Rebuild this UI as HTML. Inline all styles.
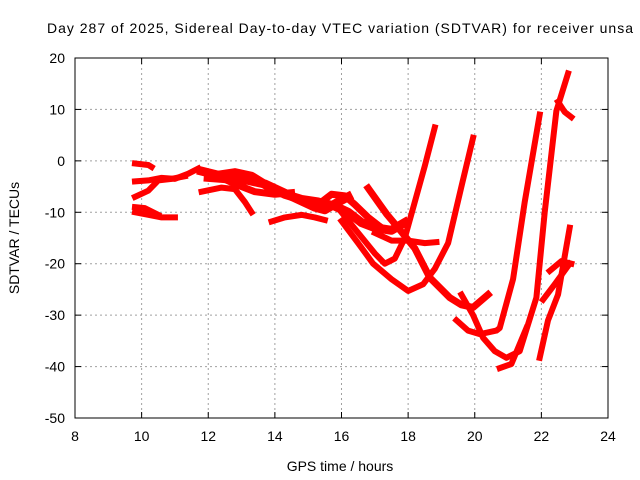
<!DOCTYPE html>
<html><head><meta charset="utf-8"><style>
html,body{margin:0;padding:0;background:#fff;}
svg{display:block;font-family:"Liberation Sans",Arial,sans-serif;}
</style></head><body>
<svg id="chart" width="640" height="480">
<text x="340" y="33" text-anchor="middle" font-size="14" textLength="586">Day 287 of 2025, Sidereal Day-to-day VTEC variation (SDTVAR) for receiver unsa</text>
<g id="grid"></g>
<g id="axes"></g>
<g id="series"></g>
<text x="340" y="471" text-anchor="middle" font-size="14">GPS time / hours</text>
<text transform="translate(19,238) rotate(-90)" text-anchor="middle" font-size="14">SDTVAR / TECUs</text>
</svg>
<script>
const xTicks=[8,10,12,14,16,18,20,22,24];
const yTicks=[20,10,0,-10,-20,-30,-40,-50];
const trackEarly1=[[9.8,-0.5],[10.2,-0.8],[10.3,-1.2]];
const trackEarly2=[[9.8,-4],[10.2,-3.8],[10.6,-3.3],[11,-3.5],[11.4,-2.5],[11.7,-1.5]];
const trackEarly3=[[9.8,-7],[10.2,-5.8],[10.5,-3.8],[10.9,-3.5],[11.3,-3]];
const trackEarly4=[[9.8,-10],[10.2,-10.5],[10.6,-11],[11,-11]];
const trackEarly5=[[9.8,-9],[10.1,-9.2],[10.5,-10.5]];
const trackMain=[[11.8,-2],[12.3,-2.8],[12.8,-2.3],[13.3,-3],[13.8,-5],[14.3,-6.5],[14.8,-7.5],[15.3,-8],[15.8,-8.8],[16.2,-10],[16.6,-12],[17,-13],[17.5,-13.5],[17.9,-12]];
const trackMain2=[[12,-3.2],[12.6,-3.5],[13.2,-3.8],[13.7,-4.5],[14.2,-6],[14.7,-7.5],[15.2,-9],[15.5,-9.5],[15.9,-8],[16.2,-7]];
const trackBranch=[[11.8,-6],[12.4,-5.2],[12.8,-5.5],[13.1,-8],[13.3,-10]];
const trackBranch2=[[12.3,-3],[12.8,-4.5],[13.4,-6],[14,-6.5],[14.5,-6.2]];
const trackLow=[[13.9,-11.8],[14.3,-11],[14.8,-10.5],[15.2,-11],[15.5,-11.5]];
const trackHump=[[15.3,-8.5],[15.7,-6.5],[16.1,-6.8],[16.4,-8.5],[16.8,-11],[17.2,-13]];
const trackR1=[[16,-10],[16.5,-14],[17,-18],[17.3,-20],[17.6,-19],[17.9,-15],[18.2,-8],[18.5,-1],[18.8,6.5]];
const trackR2=[[16,-11.7],[16.5,-16],[16.95,-20],[17.5,-23],[18,-25.3],[18.45,-24],[18.8,-21],[19.2,-16],[19.6,-5],[19.95,4.5]];
const trackR3=[[16.8,-5.3],[17.35,-10.3],[17.7,-13],[18.2,-17],[18.65,-22.7],[19.25,-26.6],[19.6,-28],[19.95,-28.5],[20.4,-26]];
const trackR4=[[17,-14],[17.5,-15.5],[18,-15.5],[18.5,-16],[18.85,-15.8]];
const trackR5=[[19.45,-31],[19.8,-33],[20.15,-33.7],[20.65,-33],[20.75,-32.5],[21.15,-23],[21.5,-8],[21.95,9]];
const trackR6=[[19.6,-26],[19.95,-30],[20.25,-34.4],[20.6,-37],[20.95,-38.3],[21.35,-37],[21.85,-26.6],[22.1,-10],[22.45,9.7],[22.8,17]];
const trackR7=[[20.75,-40.3],[21.1,-39.5],[21.55,-32.5]];
const trackR8=[[21.95,-38.3],[22.2,-31],[22.5,-26],[22.85,-13]];
const trackR9=[[22.05,-27],[22.4,-24],[22.85,-20]];
const trackR10=[[22.25,-21.4],[22.6,-19.5],[22.9,-20]];
const trackR11=[[22.5,11.5],[22.7,9.5],[22.9,8.5]];
const tracks=[trackEarly1,trackEarly2,trackEarly3,trackEarly4,trackEarly5,trackMain,trackMain2,trackBranch,trackBranch2,trackLow,trackHump,trackR1,trackR2,trackR3,trackR4,trackR5,trackR6,trackR7,trackR8,trackR9,trackR10,trackR11];
const strokeW=[6,6,6,6,6,9,9,6,7,6,7,6,6,7,6,6,6,6,6,6,6,6];

const L=75,R=608,T=58,B=418,xmin=8,xmax=24,ymin=-50,ymax=20;
const sx=h=>L+(h-xmin)/(xmax-xmin)*(R-L);
const sy=v=>B-(v-ymin)/(ymax-ymin)*(B-T);
const NS="http://www.w3.org/2000/svg";
function mk(tag,attrs,parent){const e=document.createElementNS(NS,tag);for(const k in attrs)e.setAttribute(k,attrs[k]);parent.appendChild(e);return e;}
const grid=document.getElementById('grid'),axes=document.getElementById('axes'),series=document.getElementById('series');
xTicks.forEach(t=>{
  const x=sx(t);
  if(t>xmin&&t<xmax){const g=mk('line',{x1:x,x2:x,y1:T,y2:B,stroke:'#a0a0a0','stroke-dasharray':'2,3'},grid);
  
  }
  mk('line',{x1:x,x2:x,y1:B,y2:B-6,stroke:'#000'},axes);
  mk('line',{x1:x,x2:x,y1:T,y2:T+6,stroke:'#000'},axes);
  const lb=mk('text',{x:x,y:B+23,'text-anchor':'middle','font-size':'14'},axes);
  lb.textContent=t;
  
  
});
yTicks.forEach(t=>{
  const y=sy(t);
  if(t>ymin&&t<ymax){const g=mk('line',{x1:L,x2:R,y1:y,y2:y,stroke:'#a0a0a0','stroke-dasharray':'2,3'},grid);
  
  }
  mk('line',{x1:L,x2:L+6,y1:y,y2:y,stroke:'#000'},axes);
  mk('line',{x1:R,x2:R-6,y1:y,y2:y,stroke:'#000'},axes);
  const lb=mk('text',{x:L-10,y:y+5,'text-anchor':'end','font-size':'14'},axes);
  lb.textContent=t;
  
  
});
mk('rect',{x:L,y:T,width:R-L,height:B-T,fill:'none',stroke:'#000'},axes);
tracks.forEach((tr,i)=>{
  const p=mk('polyline',{points:tr.map(d=>sx(d[0])+','+sy(d[1])).join(' '),fill:'none',stroke:'#ff0000','stroke-width':strokeW[i],'stroke-linejoin':'round','stroke-linecap':'square'},series);
  
  
});
</script>
</body></html>
